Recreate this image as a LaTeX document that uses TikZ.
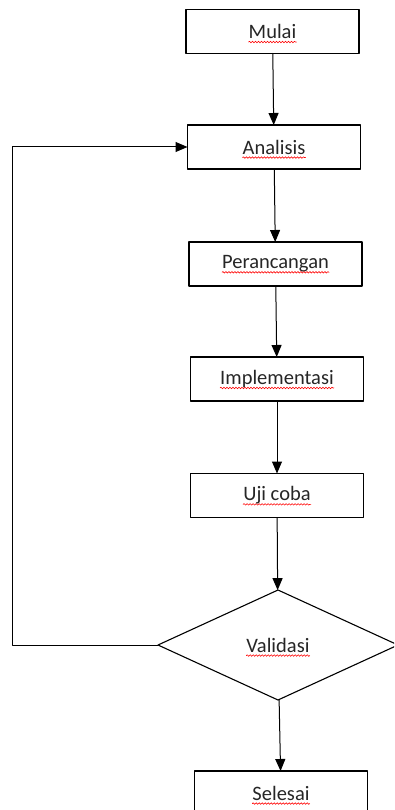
\documentclass[tikz,border=0pt]{standalone}
\usepackage{fontspec}
\setmainfont{Carlito}
\usetikzlibrary{arrows.meta,shapes.geometric,decorations.pathmorphing}

\tikzset{
  box/.style={draw, line width=1.1pt, minimum width=173pt, minimum height=44pt, inner sep=0pt, outer sep=0pt},
  dia/.style={draw, diamond, line width=1.1pt, minimum width=240pt, minimum height=110pt, inner sep=0pt, outer sep=0pt},
  txt/.style={inner sep=0pt, text=black!85, font=\fontsize{20.5}{24}\selectfont},
  arr/.style={line width=1pt, -{Triangle[length=12pt,width=10pt]}},
  spell/.style={draw=red, line width=0.6pt, decorate, decoration={snake, segment length=3pt, amplitude=0.8pt}}
}

\begin{document}
\begin{tikzpicture}[line cap=round, line join=round, x=1pt, y=-1pt]
                \clip (0,0) rectangle (394,810);
                \node[box] (mulai) at (272.5,31.5) {};
                \node[box] (ana) at (274,147) {};
                \node[box] (ranc) at (275.5,264) {};
                \node[box] (impl) at (277,379) {};
                \node[box] (uji) at (277,495.5) {};
                \node[dia] (val) at (278,645) {};
                \node[box] (sel) at (281,793) {};
                \coordinate (loop) at (12,147);
                \foreach \n/\t in {mulai/Mulai, ana/Analisis, ranc/Perancangan, impl/Implementasi, uji/Uji coba, val/Validasi, sel/Selesai}
                {
                    \node[txt] (\n-t) at (\n) {\t};
                    \draw[spell] ([yshift=-3.5pt]\n-t.base west) -- ([yshift=-3.5pt]\n-t.base east);
                }
                \draw[arr] (mulai) -- (ana);
                \draw[arr] (ana) -- (ranc);
                \draw[arr] (ranc) -- (impl);
                \draw[arr] (impl) -- (uji);
                \draw[arr] (uji) -- (val);
                \draw[arr] (val) -- (sel);
                \draw[arr] (val.west) -| (loop) -- (ana.west);
            \end{tikzpicture}
\end{document}
